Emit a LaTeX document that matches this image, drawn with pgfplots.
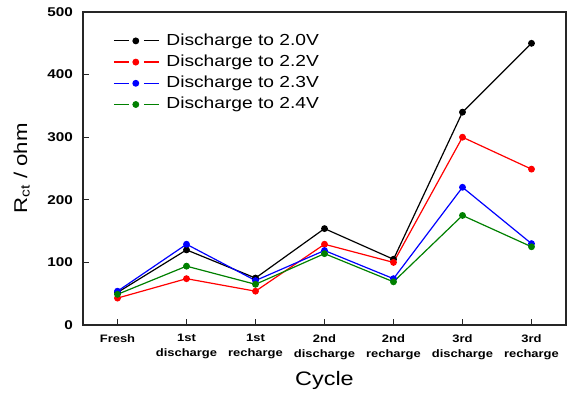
\documentclass[border=0pt]{standalone}
\usepackage{pgfplots}
\pgfplotsset{compat=1.18}
\usepackage{fontspec}
\setmainfont{Liberation Sans}[FakeStretch=1.2]
\begin{document}
\begin{tikzpicture}[x=1pt,y=1pt]
\useasboundingbox (-83pt,-67pt) rectangle (484pt,325pt);
\begin{axis}[
  at={(0pt,0pt)}, anchor=south west,
  scale only axis, width=483pt, height=313pt,
  xmin=-0.5, xmax=6.5, ymin=0, ymax=500,
  xtick={0,1,2,3,4,5,6},
  xticklabels={Fresh,{1st\\discharge},{1st\\recharge},{2nd\\discharge},{2nd\\recharge},{3rd\\discharge},{3rd\\recharge}},
  ytick={0,100,200,300,400,500},
  tick align=inside, xtick pos=bottom, ytick pos=left,
  major tick length=6pt,
  tick style={line width=1pt, black!85},
  axis line style={line width=1.3pt, black!85},
  /pgf/number format/assume math mode=true,
  yticklabel style={font=\fontsize{12.7}{14}\selectfont\bfseries, inner sep=0pt, xshift=-10pt},
  xticklabel style={font=\fontsize{10.8}{15}\selectfont\bfseries, align=center, inner sep=0pt, yshift=-9pt},
  xlabel={Cycle},
  ylabel={R\textsubscript{ct} / ohm},
  xlabel style={font=\fontsize{19.5}{22}\selectfont, at={(axis description cs:0.5,-0.194)}, anchor=base},
  ylabel style={font=\fontsize{18.5}{22}\selectfont, at={(axis description cs:-0.1159,0.5)}, anchor=base},
  legend cell align=left,
  legend style={draw=none, fill=none, at={(axis description cs:0.0621,0.9315)}, anchor=north west,
    font=\fontsize{16}{18}\selectfont, inner xsep=0pt, inner ysep=0pt,
    nodes={inner sep=0pt, text height=11.5pt, text depth=3pt},
    row sep=6.7pt, column sep=7pt},
  legend image code/.code={
    \draw[#1,mark=none] (0pt,0pt) -- (15pt,0pt);
    \draw[#1,mark=none] (30pt,0pt) -- (45pt,0pt);
    \draw[#1,only marks] plot coordinates {(22pt,0pt)};
  },
  every axis plot/.append style={line width=1.2pt, mark=*, mark size=2.8pt},
]
\addplot[color=black, mark options={fill=black}] coordinates {(0,52) (1,120) (2,75) (3,154) (4,105) (5,340) (6,450)};
\addlegendentry{Discharge to 2.0V}
\addplot[color=red, mark options={fill=red}] coordinates {(0,43) (1,74) (2,54) (3,129) (4,100) (5,300) (6,249)};
\addlegendentry{Discharge to 2.2V}
\addplot[color=blue, mark options={fill=blue}] coordinates {(0,54) (1,129) (2,71) (3,119) (4,74) (5,220) (6,130)};
\addlegendentry{Discharge to 2.3V}
\addplot[color=green!50!black, mark options={fill=green!50!black}] coordinates {(0,49) (1,94) (2,65) (3,114) (4,69) (5,175) (6,125)};
\addlegendentry{Discharge to 2.4V}
\end{axis}
\end{tikzpicture}
\end{document}
